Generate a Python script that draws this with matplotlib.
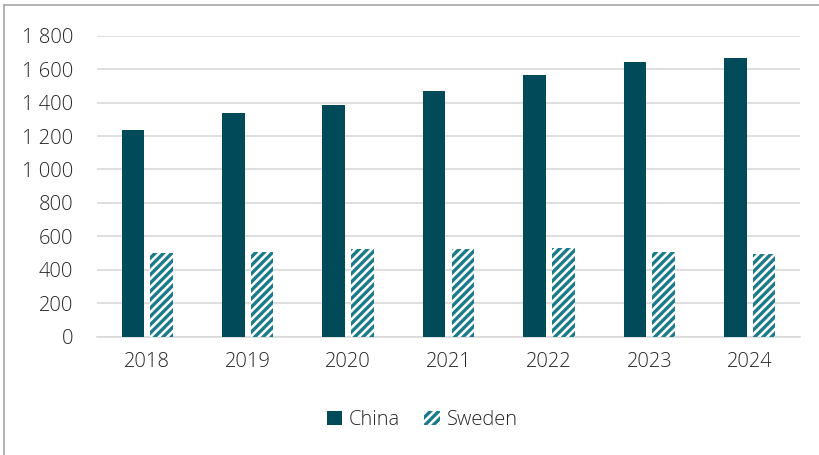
import numpy as np
import matplotlib.pyplot as plt
from matplotlib.ticker import FuncFormatter
from matplotlib.lines import Line2D

plt.rcParams['font.family'] = ['Open Sans', 'DejaVu Sans']
plt.rcParams['font.weight'] = 'light'
plt.rcParams['hatch.linewidth'] = 2.4

years = ['2018', '2019', '2020', '2021', '2022', '2023', '2024']
china = [1235, 1335, 1385, 1470, 1565, 1645, 1665]
sweden = [498, 505, 522, 522, 530, 507, 492]

dark = '#004a5a'
teal = '#1b7b8a'
text_col = '#262626'
grid_col = '#d9d9d9'

fig = plt.figure(figsize=(8.2, 4.55), dpi=100)
ax = fig.add_axes([0.1183, 0.26, 0.8573, 0.6615])

x = np.arange(len(years))
w = 0.226
gap = 0.06
ax.bar(x - (w + gap) / 2, china, w, color=dark, label='China', zorder=3)
ax.bar(x + (w + gap) / 2, sweden, w, color='white', edgecolor=teal,
       hatch='////', linewidth=0, label='Sweden', zorder=3)

ax.set_xlim(-0.5, len(years) - 0.5)
ax.set_ylim(0, 1800)
ax.set_yticks(np.arange(0, 1801, 200))
ax.yaxis.set_major_formatter(FuncFormatter(lambda v, p: f'{int(v):,}'.replace(',', ' ')))
ax.set_xticks(x)
ax.set_xticklabels(years)

ax.grid(axis='y', color=grid_col, linewidth=1.2, zorder=0)
for s in ['top', 'right', 'left']:
    ax.spines[s].set_visible(False)
ax.spines['bottom'].set_color(grid_col)
ax.spines['bottom'].set_linewidth(1.2)
ax.tick_params(axis='both', length=0, labelsize=14.5, colors=text_col)
ax.tick_params(axis='y', pad=17)
ax.tick_params(axis='x', pad=11)

leg = fig.legend(loc='center', bbox_to_anchor=(0.515, 0.077), ncol=2, frameon=False,
                 fontsize=14.5, handlelength=0.75, handleheight=0.75,
                 handletextpad=0.35, columnspacing=1.2)
for t in leg.get_texts():
    t.set_color(text_col)

# outer frame (top and left edges)
fig.add_artist(Line2D([4 / 820, 4 / 820], [0, 1 - 5 / 455], transform=fig.transFigure,
                      color='#a6a6a6', linewidth=1.2))
fig.add_artist(Line2D([4 / 820, 1], [1 - 5 / 455, 1 - 5 / 455], transform=fig.transFigure,
                      color='#a6a6a6', linewidth=1.2))

fig.savefig('out.png', dpi=100)
